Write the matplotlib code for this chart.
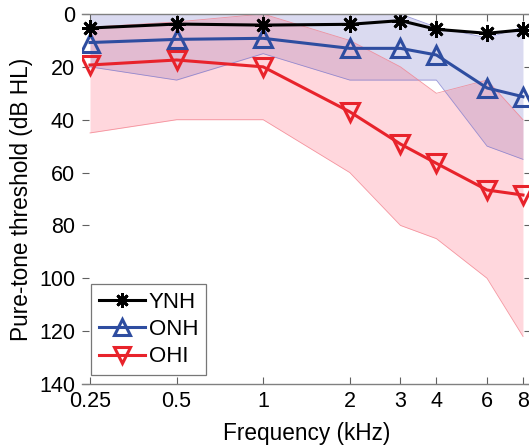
import numpy as np
from matplotlib import pyplot as plt

plt.rcParams['font.family'] = ['Liberation Sans', 'DejaVu Sans']

freqs = [0.25, 0.5, 1, 2, 3, 4, 6, 8]
freq_labels = ["0.25", "0.5", "1", "2", "3", "4", "6", "8"]

ynh = [5.3, 3.8, 4.2, 3.9, 2.5, 5.8, 7.3, 6.0]
onh = [10.8, 9.6, 9.2, 13.0, 13.0, 15.5, 28.0, 31.3]
ohi = [19.3, 17.4, 20.0, 37.0, 49.2, 56.5, 66.6, 68.5]

# shaded ranges
onh_lo = [0, 0, 0, 0, 0, 5, 9, 5]
onh_hi = [20, 25, 15, 25, 25, 25, 50, 55]
ohi_lo = [5, 3, 0, 10, 20, 30, 25, 40]
ohi_hi = [45, 40, 40, 60, 80, 85, 100, 122]

fig = plt.figure(figsize=(5.29, 4.48), dpi=100)
ax = fig.add_axes([82 / 529, 1 - 384 / 448, (531 - 82) / 529, 370 / 448])

ax.fill_between(freqs, onh_lo, onh_hi, color=(0.35, 0.35, 0.75), alpha=0.22, lw=0)
ax.plot(freqs, onh_lo, color=(0.45, 0.45, 0.8), lw=0.6, alpha=0.7)
ax.plot(freqs, onh_hi, color=(0.45, 0.45, 0.8), lw=0.6, alpha=0.7)
ax.fill_between(freqs, ohi_lo, ohi_hi, color=(1.0, 0.3, 0.4), alpha=0.22, lw=0)
ax.plot(freqs, ohi_lo, color=(0.95, 0.5, 0.55), lw=0.6, alpha=0.8)
ax.plot(freqs, ohi_hi, color=(0.95, 0.5, 0.55), lw=0.6, alpha=0.8)

red = '#e8232b'
blue = '#2e4da0'
l3, = ax.plot(freqs, ohi, color=red, lw=2.2, marker='v', markersize=13,
              markerfacecolor='none', markeredgewidth=2.2, label='OHI')
l2, = ax.plot(freqs, onh, color=blue, lw=2.2, marker='^', markersize=13,
              markerfacecolor='none', markeredgewidth=2.2, label='ONH')
l1, = ax.plot(freqs, ynh, color='black', lw=2.2, marker=(8, 2, 0), markersize=12,
              markeredgewidth=2, label='YNH')

ax.set_xscale('log')
ax.set_xlim(0.2345, 8.53)
ax.set_ylim(140, 0)
ax.set_xticks(freqs)
ax.set_xticklabels(freq_labels)
ax.minorticks_off()
ax.set_yticks(np.arange(0, 141, 20))

ax.spines['left'].set_visible(False)
for s in ['top', 'bottom', 'right']:
    ax.spines[s].set_color('#808080')
    ax.spines[s].set_linewidth(1)
ax.tick_params(direction='in', length=5, width=0.8, color='#606060',
               labelsize=15.5, top=True, right=True)
ax.tick_params(axis='x', pad=5)
ax.tick_params(axis='y', pad=5)

ax.set_xlabel('Frequency (kHz)', fontsize=16.3, labelpad=7)
ax.set_ylabel('Pure-tone threshold (dB HL)', fontsize=16.3, labelpad=4)

leg = ax.legend(handles=[l1, l2, l3], loc='lower left', fontsize=16,
                frameon=True, fancybox=False, edgecolor='#555555',
                handlelength=2.1, handletextpad=0.15, borderpad=0.35,
                labelspacing=0.28, borderaxespad=0.4, markerscale=0.85)
leg.get_frame().set_linewidth(0.9)

fig.savefig('out.png', dpi=100)
